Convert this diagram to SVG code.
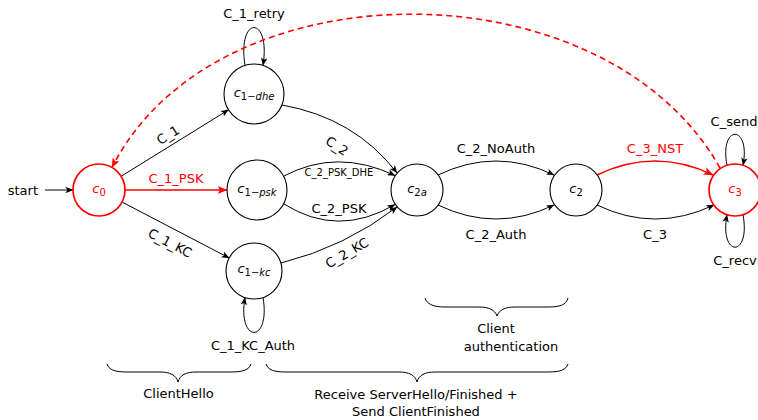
<svg xmlns="http://www.w3.org/2000/svg" width="758" height="420" viewBox="0 0 758 420">
<style>
text { font-family: "DejaVu Sans", "Liberation Sans", sans-serif; font-size: 13px; fill: #000; }
.red { fill: #ff0000; }
.sm { font-size: 10px; }
.nl { font-size: 13px; }
.it { font-style: italic; }
.sub { font-size: 10px; }
.n { fill: #fff; stroke: #000; stroke-width: 1.1; }
.nr { fill: #fff; stroke: #ff0000; stroke-width: 1.7; }
.e { fill: none; stroke: #000; stroke-width: 1; marker-end: url(#ah); }
.er { fill: none; stroke: #ff0000; stroke-width: 1.7; marker-end: url(#ahr); }
.ed { fill: none; stroke: #ff0000; stroke-width: 1.6; stroke-dasharray: 6 4; marker-end: url(#ahr); }
.br { fill: none; stroke: #000; stroke-width: 1; }
</style>
<defs>
<marker id="ah" viewBox="0 0 10 8" refX="9.5" refY="4" markerWidth="8" markerHeight="6.4" markerUnits="userSpaceOnUse" orient="auto">
<path d="M0,0 L10,4 L0,8 L2.5,4 z" fill="#000"/>
</marker>
<marker id="ahr" viewBox="0 0 10 8" refX="9.5" refY="4" markerWidth="10" markerHeight="8" markerUnits="userSpaceOnUse" orient="auto">
<path d="M0,0 L10,4 L0,8 L2.5,4 z" fill="#ff0000"/>
</marker>
</defs>

<g id="connectors">
<g id="e-start"><path class="e" d="M 45 190 L 73 190"/><text x="38" y="194.5" text-anchor="end">start</text></g>
<g id="e-c1"><path class="e" d="M 121.1 176.3 L 228.5 109.8"/><text transform="translate(168,135) rotate(-32)" x="0" y="4.5" text-anchor="middle">C_1</text></g>
<g id="e-c1psk"><path class="er" d="M 125 190 L 227 190"/><text class="red" x="176" y="183" text-anchor="middle">C_1_PSK</text></g>
<g id="e-c1kc"><path class="e" d="M 122 202 L 229.2 258"/><text transform="translate(170,243) rotate(27.5)" x="0" y="4.5" text-anchor="middle">C_1_KC</text></g>
<g id="e-retry"><path class="e" d="M 245 65.4 C 237 15, 271 15, 263 65.4"/><text x="254" y="17.5" text-anchor="middle">C_1_retry</text></g>
<g id="e-kcauth"><path class="e" d="M 263 297.5 C 271 344, 237 344, 245 297.5"/><text x="253" y="350" text-anchor="middle">C_1_KC_Auth</text></g>
<g id="e-c2"><path class="e" d="M 282 105 Q 355 118 397 173"/><text transform="translate(337,146) rotate(33)" x="0" y="4.5" text-anchor="middle">C_2</text></g>
<g id="e-c2pskdhe"><path class="e" d="M 284 176 Q 337 148 395 175.5"/><text class="sm" x="339" y="176" text-anchor="middle">C_2_PSK_DHE</text></g>
<g id="e-c2psk"><path class="e" d="M 284 204 Q 338 238 395 204.5"/><text x="339" y="213" text-anchor="middle">C_2_PSK</text></g>
<g id="e-c2kc"><path class="e" d="M 281 263 Q 345 247 397 207"/><text transform="translate(347,253) rotate(-30)" x="0" y="4.5" text-anchor="middle">C_2_KC</text></g>
<g id="e-noauth"><path class="e" d="M 438 175 Q 496 147 554 175"/><text x="496" y="153" text-anchor="middle">C_2_NoAuth</text></g>
<g id="e-auth"><path class="e" d="M 438 205 Q 496 233 554 205"/><text x="496" y="239" text-anchor="middle">C_2_Auth</text></g>
<g id="e-nst"><path class="er" d="M 597 175 Q 655 147 713 175"/><text class="red" x="655" y="153" text-anchor="middle">C_3_NST</text></g>
<g id="e-c3"><path class="e" d="M 597 205 Q 655 233 714 205"/><text x="655" y="239" text-anchor="middle">C_3</text></g>
<g id="e-send"><path class="e" d="M 727 165.3 C 719 124, 751 124, 743 165.3"/><text x="734" y="126" text-anchor="middle">C_send</text></g>
<g id="e-recv"><path class="e" d="M 743 214.7 C 751 258, 719 258, 727 214.7"/><text x="735" y="265" text-anchor="middle">C_recv</text></g>
<g id="e-back"><path class="ed" d="M 720 168 C 605 -37, 215 -37, 112 167.5"/></g>
</g>

<g id="c0"><circle class="nr" cx="99" cy="190" r="26"/><text class="red" x="99" y="193" text-anchor="middle"><tspan class="it">c</tspan><tspan class="sub" dy="2.5">0</tspan></text></g>
<g id="c1-dhe"><circle class="n" cx="254" cy="94" r="30"/><text x="254" y="97" text-anchor="middle"><tspan class="it">c</tspan><tspan class="sub" dy="2.5">1−</tspan><tspan class="sub it">dhe</tspan></text></g>
<g id="c1-psk"><circle class="n" cx="257" cy="190" r="30"/><text x="257" y="193" text-anchor="middle"><tspan class="it">c</tspan><tspan class="sub" dy="2.5">1−</tspan><tspan class="sub it">psk</tspan></text></g>
<g id="c1-kc"><circle class="n" cx="254" cy="271" r="28"/><text x="254" y="273" text-anchor="middle"><tspan class="it">c</tspan><tspan class="sub" dy="2.5">1−</tspan><tspan class="sub it">kc</tspan></text></g>
<g id="c2a"><circle class="n" cx="417" cy="190" r="26"/><text x="417" y="193" text-anchor="middle"><tspan class="it">c</tspan><tspan class="sub" dy="2.5">2</tspan><tspan class="sub it">a</tspan></text></g>
<g id="c2"><circle class="n" cx="576" cy="190" r="26"/><text x="576" y="193" text-anchor="middle"><tspan class="it">c</tspan><tspan class="sub" dy="2.5">2</tspan></text></g>
<g id="c3"><circle class="nr" cx="735" cy="190" r="26"/><text class="red" x="735" y="193" text-anchor="middle"><tspan class="it">c</tspan><tspan class="sub" dy="2.5">3</tspan></text></g>

<g id="braces">
<path class="br" d="M 107 364 C 109 370, 115 372, 127 372 L 160 372 C 170 372, 176 375, 178 382 C 180 375, 186 372, 196 372 L 231 372 C 243 372, 249 370, 251 364"/>
<text x="178.5" y="398" text-anchor="middle">ClientHello</text>
<path class="br" d="M 266 364 C 268 370, 274 372, 286 372 L 399 372 C 409 372, 415 375, 417 382 C 419 375, 425 372, 435 372 L 548 372 C 560 372, 566 370, 568 364"/>
<text x="416" y="399" text-anchor="middle">Receive ServerHello/Finished +</text>
<text x="416" y="416" text-anchor="middle">Send ClientFinished</text>
<path class="br" d="M 425 298 C 427 304, 433 307, 445 307 L 479 307 C 489 307, 495 310, 497 316 C 499 310, 505 307, 515 307 L 548 307 C 560 307, 566 305, 568 298"/>
<text x="496" y="333" text-anchor="middle">Client</text>
<text x="511" y="351" text-anchor="middle">authentication</text>
</g>
</svg>
